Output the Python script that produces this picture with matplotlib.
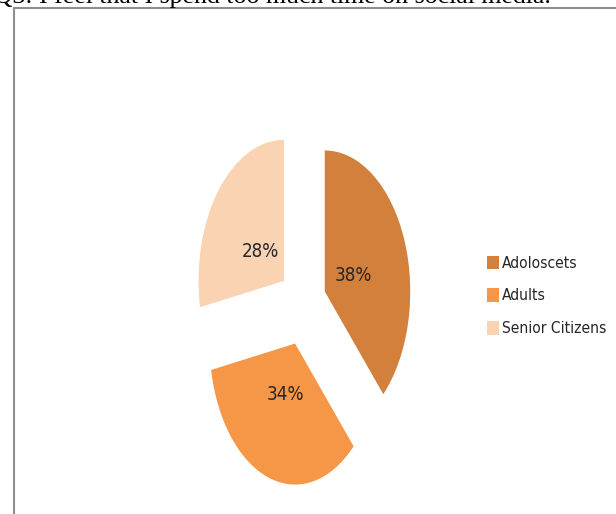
import matplotlib
matplotlib.use("Agg")
import matplotlib.pyplot as plt
from matplotlib.patches import Patch, Rectangle
from matplotlib import font_manager

categories = ["Adoloscets", "Adults", "Senior Citizens"]
values = [38, 34, 28]
colors = ["#D3803C", "#F59746", "#F9D3B2"]
title = "Q3: I feel that I spend too much time on social media."

# pick a narrow sans font if one is installed
narrow_name, narrow_stretch = None, "normal"
for f in font_manager.fontManager.ttflist:
    nm = f.name
    st = str(f.stretch)
    if ("Narrow" in nm or "Condensed" in nm or st in ("condensed", "semi-condensed", "500", "600")
            or (st.isdigit() and int(st) < 500)) and "Serif" not in nm and "Mono" not in nm:
        narrow_name, narrow_stretch = nm, f.stretch
        break
if narrow_name is None:
    narrow_name = "Roboto"
    scale = 0.92
else:
    scale = 1.0

W, H = 616, 514
fig = plt.figure(figsize=(W / 100, H / 100), dpi=100)

def fx(px):
    return px / W

def fy(py):
    return (H - py) / H

narrow = [narrow_name, "DejaVu Sans"]

# frame
fig.patches.append(Rectangle((fx(13.5), fy(530)), fx(640) - fx(13.5), fy(8) - fy(530),
                             transform=fig.transFigure, fill=False,
                             edgecolor="#8f8f8f", linewidth=1.5))

# title (cut off at the top)
fig.text(fx(-6), fy(3.5), title, family=["Liberation Serif", "DejaVu Serif"],
         fontsize=18.6, va="baseline", ha="left", color="black")

# pie axes (squeezed horizontally)
ax = fig.add_axes([131.5 / W, (H - 517.5) / H, 342 / W, 423 / H])
wedges, texts, autotexts = ax.pie(values, colors=colors, startangle=90, counterclock=False,
                                  explode=[0.28] * 3, autopct="%d%%", pctdistance=0.36,
                                  textprops=dict(family=narrow, stretch=narrow_stretch,
                                                 fontsize=13.5 * scale, color="#262626"))
for t in autotexts:
    x, y = t.get_position()
    t.set_position((x, y - 0.02))
ax.set_aspect("auto")
ax.set_xlim(-2, 2)
ax.set_ylim(-1.5, 1.5)
ax.axis("off")

handles = [Patch(facecolor=c, edgecolor="none") for c in colors]
fig.legend(handles, categories, loc="upper left", bbox_to_anchor=(fx(487), fy(255.5)),
           frameon=False, borderpad=0, borderaxespad=0, handlelength=0.78, handleheight=0.95,
           handletextpad=0.2, labelspacing=1.15,
           prop=dict(family=narrow, stretch=narrow_stretch, size=11.2 * scale),
           labelcolor="#262626")

fig.savefig("out.png", dpi=100)
